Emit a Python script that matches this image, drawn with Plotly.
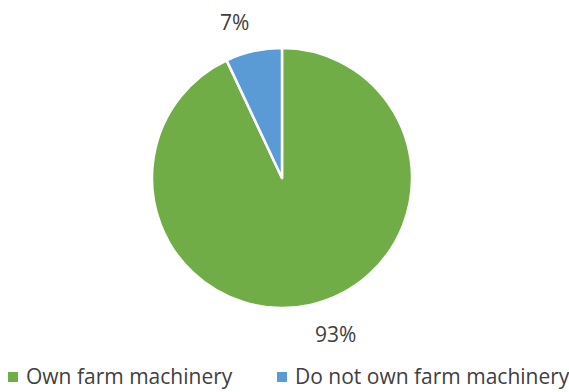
import math
import plotly.graph_objects as go

# Share of farms by machinery ownership
categories = ["Own farm machinery", "Do not own farm machinery"]
shares = [93, 7]
colors = ["#70AD47", "#5B9BD5"]

W, H = 569, 392
# pie placement in pixels (centre and radius)
CX, CY, R = 282, 178, 130
FONT = "Open Sans"
TEXT_COLOR = "#404040"

fig = go.Figure(
    go.Pie(
        labels=categories,
        values=shares,
        sort=False,
        direction="clockwise",
        rotation=0,
        marker=dict(colors=colors, line=dict(color="white", width=2.5)),
        textinfo="none",
        hoverinfo="label+value",
        showlegend=False,
        domain=dict(x=[(CX - R) / W, (CX + R) / W], y=[(H - CY - R) / H, (H - CY + R) / H]),
    )
)

# percentage labels just outside each slice, placed along the slice mid-angle
total = sum(shares)
start = 0.0
for v in shares:
    mid = (start + v / 2) / total * 2 * math.pi  # clockwise from 12 o'clock
    start += v
    dx, dy = math.sin(mid), math.cos(mid)
    rr = R * 1.1
    px, py = CX + rr * dx, CY - rr * dy
    fig.add_annotation(
        x=px / W,
        y=(H - py) / H,
        xref="paper",
        yref="paper",
        text=f"{v}%",
        showarrow=False,
        xanchor="left" if dx > 0 else "right",
        yanchor="bottom" if dy > 0 else "top",
        font=dict(family=FONT, size=21, color=TEXT_COLOR),
    )

# legend row along the bottom: square swatch followed by the category name
legend_y = 376          # pixel row of the legend centre line
swatch_x = [8, 277]    # left edge of each swatch
swatch = 10
for name, col, sx in zip(categories, colors, swatch_x):
    fig.add_shape(
        type="rect",
        xref="paper",
        yref="paper",
        x0=sx / W,
        x1=(sx + swatch) / W,
        y0=(H - legend_y - swatch / 2 - 1) / H,
        y1=(H - legend_y + swatch / 2 - 1) / H,
        fillcolor=col,
        line=dict(width=0),
    )
    fig.add_annotation(
        x=(sx + swatch + 6) / W,
        y=(H - legend_y) / H,
        xref="paper",
        yref="paper",
        text=name,
        showarrow=False,
        xanchor="left",
        yanchor="middle",
        font=dict(family=FONT, size=21, color=TEXT_COLOR),
    )

fig.update_layout(
    width=W,
    height=H,
    margin=dict(l=0, r=0, t=0, b=0),
    paper_bgcolor="white",
    plot_bgcolor="white",
    showlegend=False,
)

fig.write_html("out.html")
